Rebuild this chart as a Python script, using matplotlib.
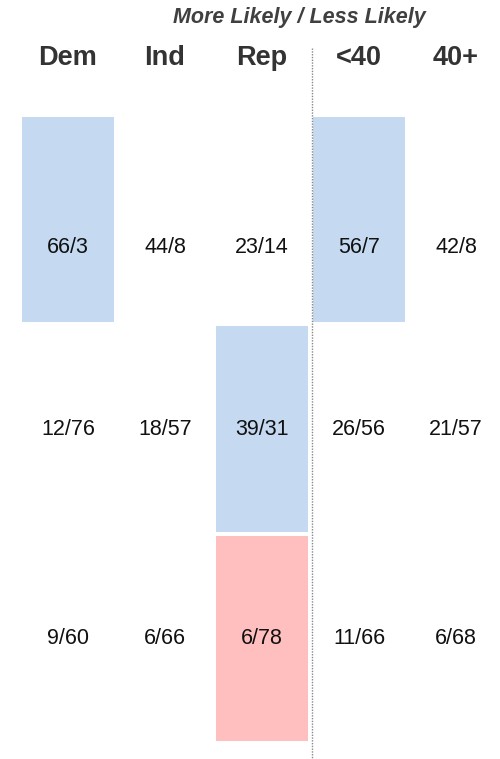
import matplotlib
matplotlib.use('Agg')
import matplotlib.pyplot as plt

columns = ['Dem', 'Ind', 'Rep', '<40', '40+']
rows_values = [
    ['66/3', '44/8', '23/14', '56/7', '42/8'],
    ['12/76', '18/57', '39/31', '26/56', '21/57'],
    ['9/60', '6/66', '6/78', '11/66', '6/68'],
]
# highlighted cells: (row, col, colour kind)
highlights = [(0, 0, 'blue'), (0, 3, 'blue'), (1, 2, 'blue'), (2, 2, 'red')]
title = 'More Likely / Less Likely'

colors = {'blue': '#C5D9F1', 'red': '#FFBFBF'}
text_color = '#333333'
font = ['Liberation Sans', 'DejaVu Sans']

fig = plt.figure(figsize=(5, 7.59), dpi=100)
ax = fig.add_axes([0, 0, 1, 1])
ax.set_xlim(-0.701, 4.454)
ax.set_ylim(2.575, -1.048)
ax.axis('off')

for r, c, kind in highlights:
    ax.bar(c, 0.98, bottom=r - 0.49, width=0.955, color=colors[kind], linewidth=0)

text_offset = [0.135, 0.0, 0.0]
for r, vals in enumerate(rows_values):
    for c, v in enumerate(vals):
        ax.text(c, r + text_offset[r], v, ha='center', va='center', fontsize=15.5,
                color='#111111', family=font)

for c, name in enumerate(columns):
    ax.text(c, -0.77, name, ha='center', va='center', fontsize=19.5,
            fontweight='bold', color=text_color, family=font)

ax.text(2.39, -0.965, title, ha='center', va='center', fontsize=15.5,
        fontweight='bold', fontstyle='italic', color='#404040', family=font)

ax.plot([2.515, 2.515], [-0.82, 2.575], color='#888888', linestyle=(0, (1, 1)), linewidth=1)

fig.savefig('out.png', dpi=100)
